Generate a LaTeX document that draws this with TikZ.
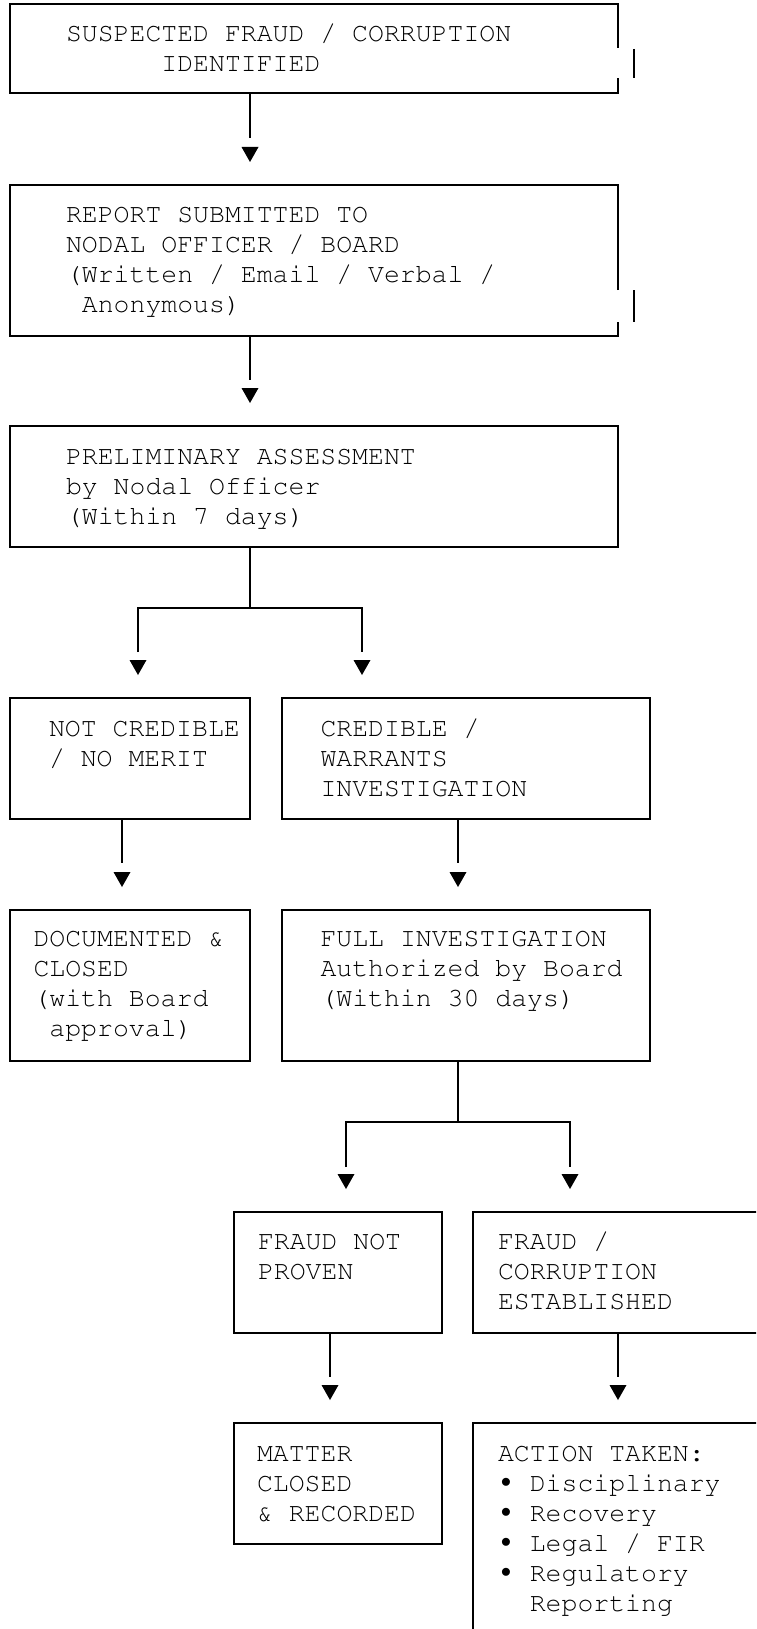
\documentclass[tikz,border=0pt]{standalone}
\usepackage[T1]{fontenc}
\usepackage{courier}
\newcommand\mymono{\fontencoding{T1}\fontfamily{pcr}\fontseries{m}\fontshape{n}\fontsize{26.5}{30}\selectfont}
\newcommand\bul{\makebox[0.6em]{\raisebox{4.5pt}{\fontencoding{OMS}\fontfamily{cmsy}\fontseries{m}\fontshape{n}\fontsize{21}{21}\selectfont\char15}}}
\begin{document}
\begin{tikzpicture}[x=1pt,y=-1pt,
  ln/.style={line width=2.2pt},
  box/.style={ln, draw, rectangle, anchor=north west, inner sep=0pt, outer sep=0pt},
  obox/.style={rectangle, anchor=north west, inner sep=0pt, outer sep=0pt},
  txt/.style={anchor=base west, inner sep=0pt, outer sep=0pt, font=\mymono},
  head/.pic={\fill (-8.5,0) -- (8.5,0) -- (0,15) -- cycle;}
]
\clip (0,0) rectangle (756,1629);
\fill[white] (0,0) rectangle (756,1629);

% boxes
\node[obox, minimum width=608pt, minimum height=89pt] (b1) at (10,4) {};
\draw[ln] (b1.north east) ++(0,44) -- (b1.north east) -- (b1.north west) -- (b1.south west) -- (b1.south east) -- ++(0,-15);
\draw[ln] ([xshift=16pt]b1.north east) ++(0,45) -- ++(0,29);

\node[obox, minimum width=608pt, minimum height=151pt] (b2) at (10,185) {};
\draw[ln] (b2.north east) ++(0,105) -- (b2.north east) -- (b2.north west) -- (b2.south west) -- (b2.south east) -- ++(0,-14);
\draw[ln] ([xshift=16pt]b2.north east) ++(0,105) -- ++(0,32);

\node[box, minimum width=608pt, minimum height=121pt] (b3) at (10,426) {};
\node[box, minimum width=240pt, minimum height=121pt] (b4) at (10,698) {};
\node[box, minimum width=368pt, minimum height=121pt] (b5) at (282,698) {};
\node[box, minimum width=240pt, minimum height=151pt] (b6) at (10,910) {};
\node[box, minimum width=368pt, minimum height=151pt] (b7) at (282,910) {};
\node[box, minimum width=208pt, minimum height=121pt] (b8) at (234,1212) {};
\node[box, minimum width=400pt, minimum height=121pt] (b9) at (473,1212) {};
\node[box, minimum width=208pt, minimum height=121pt] (b10) at (234,1423) {};
\node[box, minimum width=400pt, minimum height=300pt] (b11) at (473,1423) {};

% texts
\node[txt] (t1) at (66,41.7) {\begin{tabular}[t]{@{}l@{}}SUSPECTED FRAUD / CORRUPTION\\~~~~~~IDENTIFIED\end{tabular}};
\node[txt] (t2) at (66,222.3) {\begin{tabular}[t]{@{}l@{}}REPORT SUBMITTED TO\\NODAL OFFICER / BOARD\\(Written / Email / Verbal /\\~Anonymous)\end{tabular}};
\node[txt] (t3) at (66,464) {\begin{tabular}[t]{@{}l@{}}PRELIMINARY ASSESSMENT\\by Nodal Officer\\(Within 7 days)\end{tabular}};
\node[txt] (t4) at (49,736) {\begin{tabular}[t]{@{}l@{}}NOT CREDIBLE\\/ NO MERIT\end{tabular}};
\node[txt] (t5) at (320.5,736) {\begin{tabular}[t]{@{}l@{}}CREDIBLE /\\WARRANTS\\INVESTIGATION\end{tabular}};
\node[txt] (t6) at (33.5,946.7) {\begin{tabular}[t]{@{}l@{}}DOCUMENTED \&\\CLOSED\\(with Board\\~approval)\end{tabular}};
\node[txt] (t7) at (320.5,946.7) {\begin{tabular}[t]{@{}l@{}}FULL INVESTIGATION\\Authorized by Board\\(Within 30 days)\end{tabular}};
\node[txt] (t8) at (258,1249) {\begin{tabular}[t]{@{}l@{}}FRAUD NOT\\PROVEN\end{tabular}};
\node[txt] (t9) at (498,1249) {\begin{tabular}[t]{@{}l@{}}FRAUD /\\CORRUPTION\\ESTABLISHED\end{tabular}};
\node[txt] (t10) at (257,1461.7) {\begin{tabular}[t]{@{}l@{}}MATTER\\CLOSED\\\& RECORDED\end{tabular}};
\node[txt] (t11) at (498,1461.7) {\begin{tabular}[t]{@{}l@{}}ACTION TAKEN:\\\bul~Disciplinary\\\bul~Recovery\\\bul~Legal / FIR\\\bul~Regulatory\\~~Reporting\end{tabular}};

% connectors
\coordinate (e1) at (250,138); \coordinate (h1) at (250,147);
\draw[ln] (b1.south -| e1) -- (e1); \pic at (h1) {head};

\coordinate (e2) at (250,380); \coordinate (h2) at (250,388);
\draw[ln] (b2.south -| e2) -- (e2); \pic at (h2) {head};

\coordinate (j1) at (250,608);
\coordinate (e3a) at (138,652); \coordinate (e3b) at (362,652);
\coordinate (h3a) at (138,660); \coordinate (h3b) at (362,660);
\draw[ln] (b3.south -| j1) -- (j1);
\draw[ln] (e3a) |- (j1) -| (e3b);
\pic at (h3a) {head}; \pic at (h3b) {head};

\coordinate (e4) at (122,863); \coordinate (h4) at (122,872);
\draw[ln] (b4.south -| e4) -- (e4); \pic at (h4) {head};
\coordinate (e5) at (458,863); \coordinate (h5) at (458,872);
\draw[ln] (b5.south -| e5) -- (e5); \pic at (h5) {head};

\coordinate (j2) at (458,1122);
\coordinate (e7a) at (346,1167); \coordinate (e7b) at (570,1167);
\coordinate (h7a) at (346,1174); \coordinate (h7b) at (570,1174);
\draw[ln] (b7.south -| j2) -- (j2);
\draw[ln] (e7a) |- (j2) -| (e7b);
\pic at (h7a) {head}; \pic at (h7b) {head};

\coordinate (e8) at (330,1377); \coordinate (h8) at (330,1385);
\draw[ln] (b8.south -| e8) -- (e8); \pic at (h8) {head};
\coordinate (e9) at (618,1377); \coordinate (h9) at (618,1385);
\draw[ln] (b9.south -| e9) -- (e9); \pic at (h9) {head};
\end{tikzpicture}
\end{document}
